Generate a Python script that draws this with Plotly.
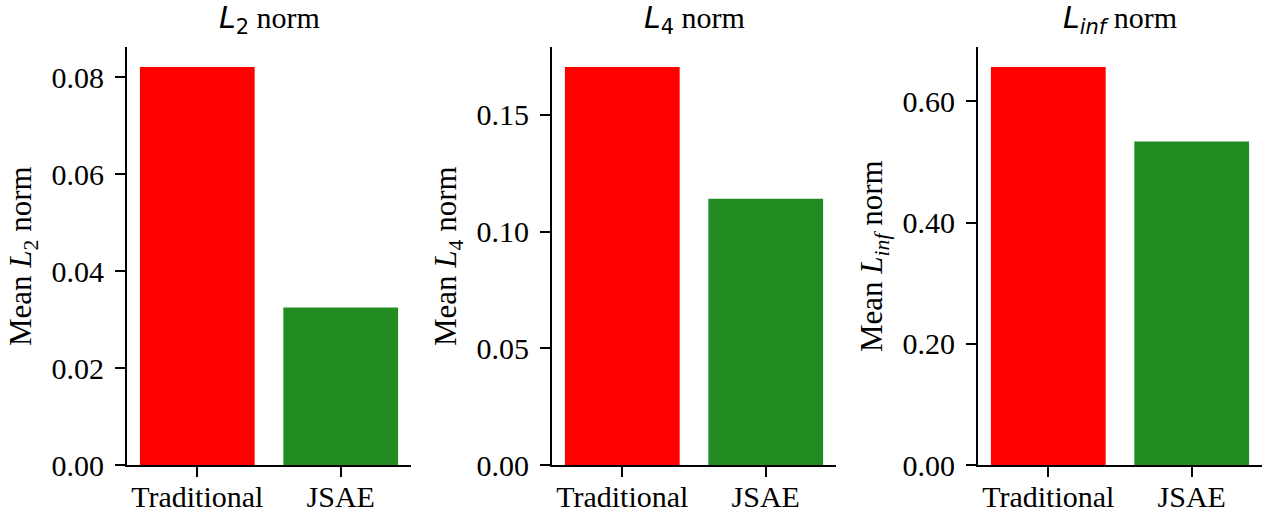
import plotly.graph_objects as go

methods = ["Traditional", "JSAE"]
l2_values = [0.0821, 0.0325]
l4_values = [0.1706, 0.1141]
linf_values = [0.657, 0.534]
norm_subs = ["2", "4", "inf"]
colors = ["#FF0000", "#228B22"]
dticks = [0.02, 0.05, 0.2]

W, H = 1270, 515
SERIF = "Liberation Serif"
FS = 30

x_domains = [[127 / W, 411 / W], [552 / W, 836 / W], [978 / W, 1262 / W]]
y_domain = [(H - 465) / H, (H - 47) / H]

fig = go.Figure()
all_vals = [l2_values, l4_values, linf_values]
annotations = []
for i, vals in enumerate(all_vals):
    ax = "" if i == 0 else str(i + 1)
    fig.add_trace(go.Bar(
        x=methods, y=vals, width=0.8,
        marker=dict(color=colors, line=dict(width=0)),
        xaxis="x" + ax, yaxis="y" + ax, showlegend=False,
    ))
    axis_common = dict(
        showline=True, linecolor="black", linewidth=2,
        ticks="outside", ticklen=10, tickwidth=2, tickcolor="black",
        showgrid=False, zeroline=False, automargin=False,
        tickfont=dict(family=SERIF, size=FS, color="black"),
    )
    fig.update_layout(**{
        "xaxis" + ax: dict(
            domain=x_domains[i], anchor="y" + ax, type="category",
            range=[-0.49, 1.49], ticklabelstandoff=-6, **axis_common),
        "yaxis" + ax: dict(
            domain=y_domain, anchor="x" + ax,
            range=[0, max(vals) * 1.05], dtick=dticks[i], tick0=0,
            tickformat=".2f", ticklabelstandoff=5, **axis_common),
    })
    sub = norm_subs[i]
    sub_html = f"<i>{sub}</i>" if sub == "inf" else sub
    x0 = x_domains[i][0] * W
    x1 = x_domains[i][1] * W
    annotations.append(dict(
        text=f"<span style=\"font-family:DejaVu Sans\"><i>L</i><sub>{sub_html}</sub></span> norm",
        x=(x0 + x1) / 2 / W, y=(H - 20) / H, xref="paper", yref="paper",
        xanchor="center", yanchor="middle", showarrow=False,
        font=dict(family=SERIF, size=FS, color="black"),
    ))
    annotations.append(dict(
        text=f"Mean <i>L</i><sub>{sub_html}</sub> norm",
        x=(x0 - 104) / W, y=(H - 256) / H, xref="paper", yref="paper",
        xanchor="center", yanchor="middle", textangle=-90, showarrow=False,
        font=dict(family=SERIF, size=FS + 1, color="black"),
    ))

fig.update_layout(
    width=W, height=H,
    margin=dict(l=0, r=0, t=0, b=0),
    paper_bgcolor="white", plot_bgcolor="white",
    annotations=annotations,
)

fig.write_html("out.html")
